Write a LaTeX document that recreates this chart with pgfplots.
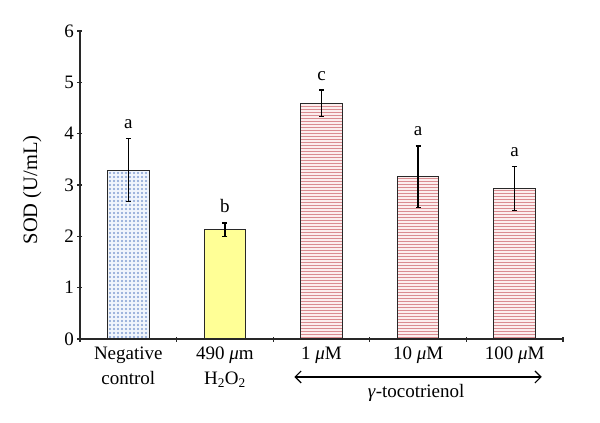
\documentclass[border=0pt]{standalone}
\usepackage{fontspec}
\setmainfont{Liberation Serif}
\usepackage{pgfplots}
\pgfplotsset{compat=1.18}
\usetikzlibrary{patterns,arrows.meta}
\definecolor{dotblue}{RGB}{130,158,210}
\definecolor{linered}{RGB}{218,140,145}
\definecolor{baryellow}{RGB}{255,255,150}
\definecolor{axisgray}{RGB}{40,40,40}
\definecolor{bluebg}{RGB}{240,245,252}
\definecolor{redbg}{RGB}{252,238,238}
\pgfdeclarepatternformonly{bluedots}{\pgfqpoint{-1bp}{-1bp}}{\pgfqpoint{5bp}{5bp}}{\pgfqpoint{4bp}{4bp}}{%
  \pgfpathcircle{\pgfqpoint{2bp}{2bp}}{1.2bp}\pgfusepath{fill}}
\pgfdeclarepatternformonly{redlines}{\pgfqpoint{-0.1bp}{-0.1bp}}{\pgfqpoint{3.1bp}{3.1bp}}{\pgfqpoint{3bp}{3bp}}{%
  \pgfpathrectangle{\pgfqpoint{-0.1bp}{0.75bp}}{\pgfqpoint{3.2bp}{1.5bp}}\pgfusepath{fill}}
\begin{document}
\begin{tikzpicture}[every node/.style={font=\fontsize{19bp}{25bp}\selectfont}]
\useasboundingbox (-80bp,-84bp) rectangle (520bp,339bp);
\begin{axis}[
  at={(0,0)}, anchor=south west,
  scale only axis, width=483bp, height=308bp,
  xmin=-0.5, xmax=4.5, ymin=0, ymax=6,
  ytick={0,1,2,3,4,5,6},
  xtick={0,1,2,3,4},
  xticklabels={Negative\\control, 490 \textit{μ}m\\H\textsubscript{2}O\textsubscript{2}, 1 \textit{μ}M, 10 \textit{μ}M, 100 \textit{μ}M},
  minor xtick={-0.5,0.5,1.5,2.5,3.5,4.5},
  major x tick style={draw=none},
  tick align=outside,
  major tick length=5bp, minor tick length=5bp,
  tick style={line width=1.2bp, axisgray},
  axis lines=left,
  axis line style={-, line width=1.3bp, axisgray},
  /pgf/number format/assume math mode=true,
  xticklabel style={align=center, yshift=-2bp, font=\fontsize{19bp}{25bp}\selectfont},
  yticklabel style={font=\fontsize{19bp}{25bp}\selectfont},
  ylabel={SOD (U/mL)},
  ylabel style={at={(axis description cs:-0.099,0.484)}, anchor=center, font=\fontsize{20.5bp}{25bp}\selectfont},
  clip=false,
  bar width=0.43,
  error bars/y dir=both, error bars/y explicit,
  error bars/error bar style={line width=1.3bp, black},
  error bars/error mark options={rotate=90, mark size=2.5bp, line width=1.3bp, black},
]
\addplot[ybar, bar shift=0pt, draw=axisgray, line width=1.1bp, fill=bluebg, postaction={pattern=bluedots, pattern color=dotblue}]
  coordinates {(0,3.29) +- (0,0.61)};
\addplot[ybar, bar shift=0pt, draw=axisgray, line width=1.1bp, fill=baryellow]
  coordinates {(1,2.13) +- (0,0.13)};
\addplot[ybar, bar shift=0pt, draw=axisgray, line width=1.1bp, fill=redbg, postaction={pattern=redlines, pattern color=linered}]
  coordinates {(2,4.59) +- (0,0.26) (3,3.16) +- (0,0.60) (4,2.93) +- (0,0.43)};
\node[anchor=base, inner sep=0pt, yshift=10bp] at (axis cs:0,3.90) {a};
\node[anchor=base, inner sep=0pt, yshift=10bp] at (axis cs:1,2.26) {b};
\node[anchor=base, inner sep=0pt, yshift=10bp] at (axis cs:2,4.85) {c};
\node[anchor=base, inner sep=0pt, yshift=10bp] at (axis cs:3,3.76) {a};
\node[anchor=base, inner sep=0pt, yshift=10bp] at (axis cs:4,3.36) {a};
\draw[{Straight Barb[length=6bp,width=12bp]}-{Straight Barb[length=6bp,width=12bp]}, line width=1.1bp, black] (axis cs:1.72,-0.74) -- (axis cs:4.28,-0.74);
\node[anchor=base, inner sep=0pt] at (axis cs:2.98,-1.13) {\textit{γ}-tocotrienol};
\end{axis}
\end{tikzpicture}
\end{document}
